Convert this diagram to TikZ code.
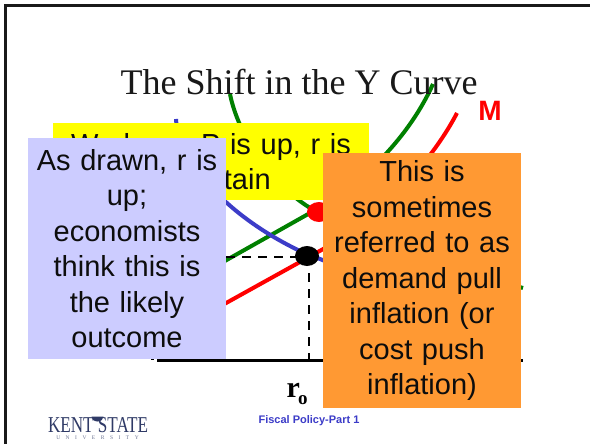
\documentclass[tikz,border=0pt]{standalone}
\usepackage{fontspec}
\usetikzlibrary{shapes.geometric}
\setmainfont{Liberation Sans}
\newfontfamily\timesf{Liberation Serif}
\definecolor{cgreen}{HTML}{008000}
\definecolor{cblue}{HTML}{3C3CC8}
\definecolor{cred}{HTML}{FF0000}
\definecolor{cyellow}{HTML}{FFFF00}
\definecolor{clav}{HTML}{CCCCFF}
\definecolor{corange}{HTML}{FF9933}
\definecolor{cnavy}{HTML}{2F3A66}
\tikzset{
  curvegreen/.style={draw=cgreen,line width=4pt},
  curveblue/.style={draw=cblue,line width=4pt},
  curvered/.style={draw=cred,line width=4pt},
  guide/.style={draw=black,line width=2pt,dash pattern=on 9pt off 7pt},
  notebox/.style={inner sep=0pt,align=center,font=\fontsize{29}{35.5}\selectfont,text=black!95},
}
\begin{document}
\begin{tikzpicture}[x=1pt,y=-1pt]
\useasboundingbox (0,0) rectangle (590,444);
\fill[white] (0,0) rectangle (590,444);
\coordinate (fa) at (5,444); \coordinate (fb) at (5,5.5); \coordinate (fc) at (590,5.5);
\draw[line width=3pt,black!90,miter limit=10] (fa) -- (fb) -- (fc);
% curves
\draw[curvegreen] (230,94) .. controls (236,125) and (262,180) .. (315,211) .. controls (380,245) and (460,270) .. (523,288);
\draw[curvegreen] (200,275) -- (310,213) .. controls (365,183) and (410,135) .. (433,84);
\draw[curveblue] (176,119) .. controls (178,160) and (225,215) .. (300,251) -- (330,263);
\draw[curvered] (200,317.5) -- (300,262) -- (325,248) .. controls (380,215) and (430,165) .. (457,113);
% axis and guides
\coordinate (ax0) at (157,360); \coordinate (ax1) at (523,360);
\draw[black,line width=3pt] (ax0) -- (ax1);
\fill[black] (150.5,357.5) rectangle (154,360);
\coordinate (gh0) at (226,257); \coordinate (gh1) at (300,257);
\coordinate (gv0) at (309,273); \coordinate (gv1) at (309,365);
\draw[guide] (gh0) -- (gh1);
\draw[guide] (gv0) -- (gv1);
\node[fill=black,ellipse,minimum width=24pt,minimum height=20pt,inner sep=0pt] (pz) at (307,256) {};
\node[fill=cred,ellipse,minimum width=24pt,minimum height=20pt,inner sep=0pt] (py) at (319,212) {};
% title and labels
\node[anchor=base,font=\timesf\fontsize{36}{40}\selectfont,text=black!90] (title) at (299,95) {The Shift in the Y Curve};
\node[anchor=base,font=\bfseries\fontsize{28}{30}\selectfont,text=cred] (mlabel) at (490,121) {M};
\node[anchor=base west,inner sep=0pt,font=\timesf\bfseries\fontsize{30}{30}\selectfont] (rlabel) at (286.5,397) {r\kern-2pt\raisebox{-7pt}{\fontsize{19}{20}\selectfont o}};
\node[anchor=base,font=\bfseries\fontsize{11}{12}\selectfont,text=cblue] (fiscal) at (309,423) {Fiscal Policy-Part 1};
% logo
\fill[cnavy] (91.5,416.5) arc[start angle=180,end angle=0,x radius=6,y radius=5] -- cycle;
\node[anchor=base,inner sep=0pt,text=cnavy] (kent) at (98,432) {\timesf\fontsize{22}{24}\selectfont\resizebox{100pt}{15pt}{KENT STATE}};
\node[anchor=base,inner sep=0pt,text=cnavy!70,font=\timesf\fontsize{5.5}{6}\selectfont] (univ) at (97.5,439) {U\hspace{5.5pt}N\hspace{5.5pt}I\hspace{5.5pt}V\hspace{5.5pt}E\hspace{5.5pt}R\hspace{5.5pt}S\hspace{5.5pt}I\hspace{5.5pt}T\hspace{5.5pt}Y};
% boxes
\node[notebox,fill=cyellow,minimum width=316pt,text width=316pt,minimum height=77pt] (yellowbox) at (211,161.5) {We know P is up, r is\\uncertain};
\node[notebox,fill=clav,minimum width=198pt,text width=198pt,minimum height=220pt] (lavbox) at (127,248.5) {As drawn, r is\\up;\\economists\\think this is\\the likely\\outcome};
\node[notebox,fill=corange,minimum width=198pt,text width=198pt,minimum height=255pt] (orbox) at (422,280.5) {This is\\sometimes\\referred to as\\demand pull\\inflation (or\\cost push\\inflation)};
\end{tikzpicture}
\end{document}
